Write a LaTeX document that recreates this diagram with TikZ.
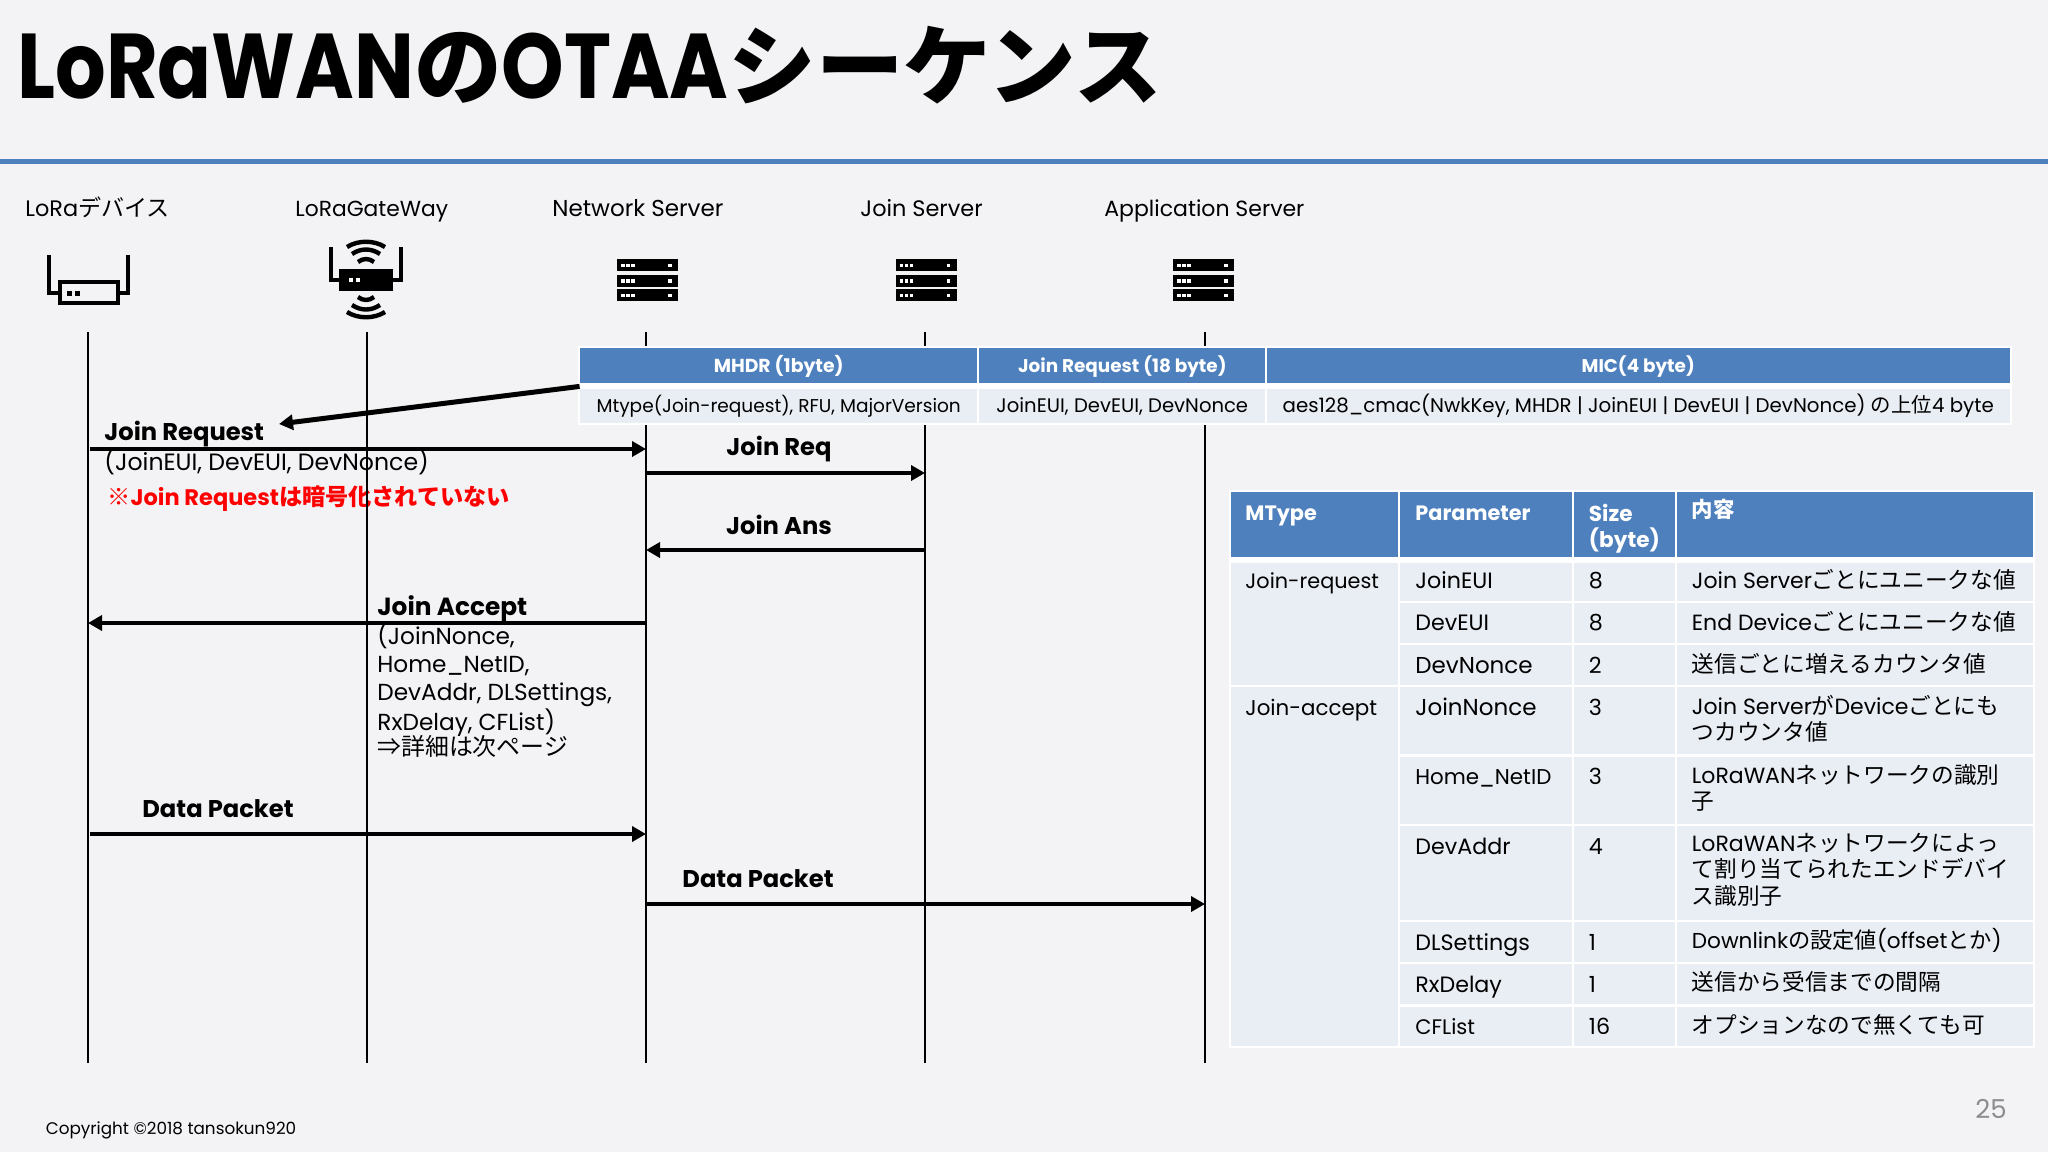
\documentclass[tikz,border=0pt]{standalone}
\usepackage{fontspec}
\setmainfont{Poppins}
\newfontfamily\cjk[Scale=1.03]{Noto Sans CJK JP}
\newfontfamily\titlefont[FakeStretch=0.865]{Poppins}
\usepackage{xcolor}
\usetikzlibrary{arrows.meta}
\definecolor{SlideBlue}{RGB}{77,128,189}
\definecolor{SlideBg}{RGB}{243,243,246}
\definecolor{CellBg}{RGB}{233,237,244}
\newlength\fszskip
\newcommand{\fsz}[1]{\setlength\fszskip{#1pt}\setlength\fszskip{1.2\fszskip}\fontsize{#1}{\fszskip}\selectfont}

\begin{document}
\begin{tikzpicture}[x=0.5pt,y=-0.5pt]
	\tikzset{
		head/.style={inner sep=0pt, anchor=west, text height=8pt, text depth=0pt, font=\fsz{11.2}},
		label/.style={inner sep=0pt, anchor=west, text height=8pt, text depth=0pt, font=\bfseries\fsz{12.1}},
		tabhead/.style={fill=SlideBlue, text=white, inner sep=0pt, minimum height=17.5pt, text height=6.6pt, text depth=0pt, font=\bfseries\fsz{9.2}},
		tabcell/.style={fill=CellBg, inner sep=0pt, minimum height=17pt, text height=6.6pt, text depth=0pt, font=\fsz{9.4}},
		celltext/.style={inner sep=0pt, anchor=west, text height=7.5pt, text depth=0pt, font=\fsz{11.1}},
		celllong/.style={inner sep=0pt, anchor=north west, align=left, font=\fsz{11}},
		cellhead/.style={inner sep=0pt, anchor=west, text height=7.5pt, text depth=0pt, text=white, font=\bfseries\fsz{10.4}},
		msg/.style={draw=black, line width=2.4pt, -{Triangle[length=7pt,width=7.5pt]}},
		life/.style={draw=black, line width=1pt},
		icon/.style={draw=black, line width=2.2pt}
	}
	\useasboundingbox (0,0) rectangle (2048,1152);
	\fill[SlideBg] (0,0) rectangle (2048,1152);

	% title
	\node[inner sep=0pt, anchor=west, text height=32pt, text depth=0pt, font=\bfseries\fsz{46}] (title) at (17,66) {\titlefont LoRaWAN{\fsz{42.5}\cjk の}OTAA{\fsz{42.5}\cjk シーケンス}};
	\coordinate (rulel) at (0,161);
	\coordinate (ruler) at (2048,161);
	\draw[SlideBlue, line width=2.5pt] (rulel) -- (ruler);

	% column heads
	\node[head] (hdev) at (25,208) {LoRa{\cjk デバイス}};
	\node[head, font=\fsz{10.9}] (hgw) at (295,208) {LoRaGateWay};
	\node[head, font=\fsz{11.5}] (hns) at (552,208) {Network Server};
	\node[head] (hjs) at (860,208) {Join Server};
	\node[head, font=\fsz{11}] (has) at (1104,208) {Application Server};

	% device icon
	\draw[icon, line join=miter] (49,255) -- (49,293) -- (59,293);
	\draw[icon, line join=miter] (128,255) -- (128,293) -- (119,293);
	\draw[icon] (60,282) rectangle (118,303);
	\fill (67,291) rectangle (72,296);
	\fill (75,291) rectangle (80,296);

	% gateway icon
	\draw[icon, line join=miter] (331,247) -- (331,280) -- (340,280);
	\draw[icon, line join=miter] (401,247) -- (401,280) -- (392,280);
	\fill (339,269) rectangle (393,291);
	\fill[white] (349,278) rectangle (353,282);
	\fill[white] (356,278) rectangle (360,282);
	\draw[icon] (347,247) .. controls (358,240) and (374,240) .. (385,247);
	\draw[icon] (352,254) .. controls (361,248) and (371,248) .. (380,254);
	\draw[icon] (358,262) .. controls (363,258) and (369,258) .. (374,262);
	\draw[icon] (358,297) .. controls (363,301) and (369,301) .. (374,297);
	\draw[icon] (352,305) .. controls (361,311) and (371,311) .. (380,305);
	\draw[icon] (347,312) .. controls (358,319) and (374,319) .. (385,312);

	% server icons
	\foreach \sx in {647.5,926,1203.5}{
		\foreach \sy in {259,274.5,289}{
			\fill ({\sx-30.5},\sy) rectangle ({\sx+30.5},{\sy+12});
			\foreach \dx in {-25,-20,-15,22}{
				\fill[white] ({\sx+\dx-1.5},{\sy+4.5}) rectangle ({\sx+\dx+2},{\sy+8});
			}
		}
	}

	% message labels
	\node[label] (ljreq) at (104,432) {Join Request};
	\node[head, font=\fsz{11.8}] (ljreqp) at (104,462) {(JoinEUI, DevEUI, DevNonce)};
	\node[label, text=red, font=\bfseries\fsz{11.25}] (lnote) at (107,497) {{\cjk ※}Join Request{\cjk は暗号化されていない}};
	\node[label, anchor=center] (ljr) at (779,447) {Join Req};
	\node[label, anchor=center] (lja) at (779,526) {Join Ans};
	\node[label, font=\bfseries\fsz{12.4}] (ljac) at (377,607) {Join Accept};
	\node[inner sep=0pt, anchor=north west, align=left, font=\fsz{11.6}] (ljacp) at (377,622.5) {(JoinNonce,\\Home\_NetID,\\DevAddr, DLSettings,\\RxDelay, CFList)\\[-1.5pt]{\cjk ⇒詳細は次ページ}};
	\node[label] (ldp1) at (142,809) {Data Packet};
	\node[label] (ldp2) at (682,879) {Data Packet};

	% lifelines
	\foreach \n/\lx in {a/88,b/367,c/646,d/925,e/1205}{
		\coordinate (top\n) at (\lx,332);
		\coordinate (bot\n) at (\lx,1063);
		\draw[life] (top\n) -- (bot\n);
	}

	% messages
	\coordinate (m1a) at (90,449); \coordinate (m1b) at (646,449);
	\coordinate (m2a) at (646,473); \coordinate (m2b) at (925,473);
	\coordinate (m3a) at (925,550); \coordinate (m3b) at (646,550);
	\coordinate (m4a) at (646,623); \coordinate (m4b) at (88,623);
	\coordinate (m5a) at (90,834); \coordinate (m5b) at (646,834);
	\coordinate (m6a) at (646,904); \coordinate (m6b) at (1205,904);
	\draw[msg] (m1a) -- (m1b);
	\draw[msg] (m2a) -- (m2b);
	\draw[msg] (m3a) -- (m3b);
	\draw[msg] (m4a) -- (m4b);
	\draw[msg] (m5a) -- (m5b);
	\draw[msg] (m6a) -- (m6b);

	% frame format table
	\fill[white] (578,346) rectangle (2012,425);
	\node[tabhead, minimum width=198.7pt, font=\bfseries\fsz{9.4}] (fh1) at (778.7,365.5) {MHDR (1byte)};
	\node[tabhead, minimum width=143pt] (fh2) at (1122.3,365.5) {Join Request (18 byte)};
	\node[tabhead, minimum width=371.7pt] (fh3) at (1638.2,365.5) {MIC(4 byte)};
	\node[tabcell, minimum width=198.7pt, font=\fsz{9.27}] (fc1) at (778.7,406) {Mtype(Join-request), RFU, MajorVersion};
	\node[tabcell, minimum width=143pt, font=\fsz{9.8}] (fc2) at (1122.3,406) {JoinEUI, DevEUI, DevNonce};
	\node[tabcell, minimum width=371.7pt, font=\fsz{9.9}] (fc3) at (1638.2,406) {aes128\_cmac(NwkKey, MHDR | JoinEUI | DevEUI | DevNonce) {\cjk の上位}4 byte};
	\coordinate (ptr) at (279,424);
	\draw[msg, line width=2.5pt] (fh1.south west) ++(0,3) -- (ptr);

	% parameter table
	\fill[white] (1229,490) rectangle (2035,1048);
	\foreach \xa/\xb in {1230.5/1398,1399.5/1572,1574/1675,1676.5/2033}{
		\fill[SlideBlue] (\xa,491.5) rectangle (\xb,556.5);
	}
	\fill[CellBg] (1230.5,562.5) rectangle (1398,685);
	\fill[CellBg] (1230.5,687) rectangle (1398,1046);
	\foreach \xa/\xb in {1399.5/1572,1574/1675,1676.5/2033}{
		\foreach \ya/\yb in {562.5/600.5,602.5/643,645/685,687/754,756.5/824,826/920,922/962,964/1004,1006.5/1046}{
			\fill[CellBg] (\xa,\ya) rectangle (\xb,\yb);
		}
	}
	\node[cellhead] (t1) at (1245,513) {MType};
	\node[cellhead] (t2) at (1415,513) {Parameter};
	\node[inner sep=0pt, anchor=north west, align=left, text=white, font=\bfseries\fsz{10.8}] (t3) at (1588.5,504) {Size\\(byte)};
	\node[cellhead] (t4) at (1691.5,510) {\cjk 内容};

	\node[celltext, font=\fsz{10.4}] (k1) at (1245,581) {Join-request};
	\node[celltext, font=\fsz{10.7}] (k2) at (1245,708) {Join-accept};

	\node[celltext] (p1) at (1415,581) {JoinEUI};
	\node[celltext] (p2) at (1415,623) {DevEUI};
	\node[celltext, font=\fsz{11.5}] (p3) at (1415,666) {DevNonce};
	\node[celltext, font=\fsz{11.5}] (p4) at (1415,708) {JoinNonce};
	\node[celltext, font=\fsz{10.7}] (p5) at (1415,777) {Home\_NetID};
	\node[celltext] (p6) at (1415,847) {DevAddr};
	\node[celltext] (p7) at (1415,943) {DLSettings};
	\node[celltext] (p8) at (1415,985) {RxDelay};
	\node[celltext, font=\fsz{10.5}] (p9) at (1415,1027) {CFList};

	\node[celltext] (s1) at (1588.5,581) {8};
	\node[celltext] (s2) at (1588.5,623) {8};
	\node[celltext] (s3) at (1588.5,666) {2};
	\node[celltext] (s4) at (1588.5,708) {3};
	\node[celltext] (s5) at (1588.5,777) {3};
	\node[celltext] (s6) at (1588.5,847) {4};
	\node[celltext] (s7) at (1588.5,943) {1};
	\node[celltext] (s8) at (1588.5,985) {1};
	\node[celltext] (s9) at (1588.5,1027) {16};

	\node[celltext, font=\fsz{11}] (c1) at (1691.5,581) {Join Server{\cjk ごとにユニークな値}};
	\node[celltext, font=\fsz{11}] (c2) at (1691.5,623) {End Device{\cjk ごとにユニークな値}};
	\node[celltext, font=\fsz{11}] (c3) at (1691.5,665) {\cjk 送信ごとに増えるカウンタ値};
	\node[celllong] (c4) at (1691.5,695) {Join Server{\cjk が}Device{\cjk ごとにも}\\{\cjk つカウンタ値}};
	\node[celllong] (c5) at (1691.5,764) {LoRaWAN{\cjk ネットワークの識別}\\{\cjk 子}};
	\node[celllong] (c6) at (1691.5,832.5) {LoRaWAN{\cjk ネットワークによっ}\\{\cjk て割り当てられたエンドデバイ}\\{\cjk ス識別子}};
	\node[celltext, font=\fsz{10.8}] (c7) at (1691.5,941) {Downlink{\cjk の設定値}(offset{\cjk とか})};
	\node[celltext, font=\fsz{11}] (c8) at (1691.5,982.5) {\cjk 送信から受信までの間隔};
	\node[celltext, font=\fsz{11}] (c9) at (1691.5,1025.5) {\cjk オプションなので無くても可};

	% footer
	\node[inner sep=0pt, anchor=west, text height=6pt, text depth=0pt, font=\fsz{8.4}] (copy) at (45.5,1128) {Copyright ©2018 tansokun920};
	\node[inner sep=0pt, anchor=west, text height=10pt, text depth=0pt, text=black!45, font=\fsz{13}] (pageno) at (1975,1108) {25};
\end{tikzpicture}
\end{document}
